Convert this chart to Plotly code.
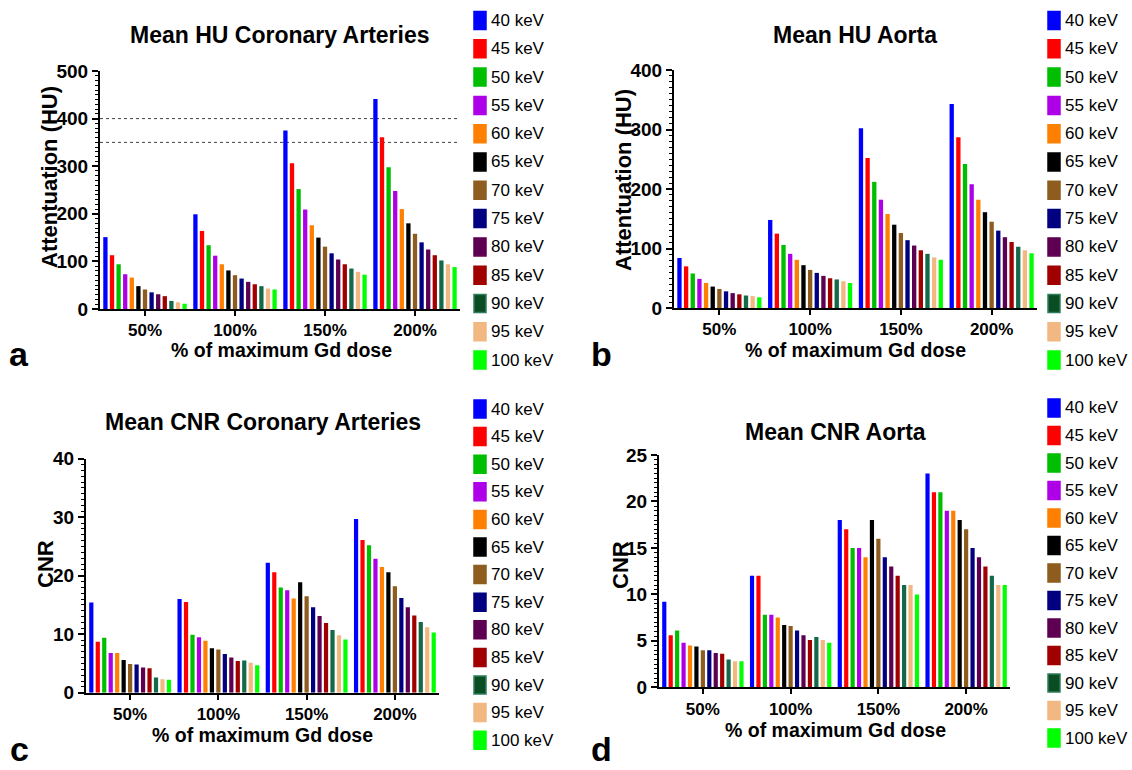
import plotly.graph_objects as go

W, H = 1132, 770

# ---------------- data ----------------
doses = ["50%", "100%", "150%", "200%"]
energies = ["40 keV", "45 keV", "50 keV", "55 keV", "60 keV", "65 keV", "70 keV",
            "75 keV", "80 keV", "85 keV", "90 keV", "95 keV", "100 keV"]
colors = ["#0000FF", "#FF0000", "#00BE00", "#AE00E8", "#FF8000", "#000000", "#8E5C1E",
          "#000080", "#5E0052", "#A00000", "#146A48", "#F2B882", "#00FF00"]
legend_border = ["#0000FF", "#FF0000", "#00BE00", "#AE00E8", "#FF8000", "#000000", "#8E5C1E",
                 "#000080", "#5E0052", "#A00000", "#2E7D5B", "#F2B882", "#00FF00"]
legend_fill = ["#0000FF", "#FF0000", "#00BE00", "#AE00E8", "#FF8000", "#000000", "#8E5C1E",
               "#000080", "#5E0052", "#A00000", "#0B4D22", "#F2B882", "#00FF00"]

# values per energy, ordered by dose (50%, 100%, 150%, 200%)
hu_coronary = {
    "40 keV": [151, 199, 375, 441],
    "45 keV": [113, 164, 306, 361],
    "50 keV": [94, 134, 252, 298],
    "55 keV": [73, 112, 209, 248],
    "60 keV": [66, 94, 176, 210],
    "65 keV": [48, 81, 150, 180],
    "70 keV": [41, 71, 131, 158],
    "75 keV": [35, 64, 117, 140],
    "80 keV": [31, 57, 104, 125],
    "85 keV": [27, 52, 94, 113],
    "90 keV": [17, 48, 85, 102],
    "95 keV": [14, 43, 78, 94],
    "100 keV": [11, 41, 72, 88],
}
hu_aorta = {
    "40 keV": [84, 148, 302, 343],
    "45 keV": [70, 125, 252, 287],
    "50 keV": [58, 106, 212, 242],
    "55 keV": [49, 91, 182, 208],
    "60 keV": [42, 81, 158, 182],
    "65 keV": [36, 72, 140, 161],
    "70 keV": [32, 64, 126, 145],
    "75 keV": [28, 59, 114, 130],
    "80 keV": [25, 54, 105, 119],
    "85 keV": [23, 50, 97, 111],
    "90 keV": [21, 48, 91, 103],
    "95 keV": [20, 45, 85, 97],
    "100 keV": [18, 42, 81, 92],
}
cnr_coronary = {
    "40 keV": [15.4, 16.0, 22.2, 29.7],
    "45 keV": [8.7, 15.5, 20.6, 26.1],
    "50 keV": [9.4, 9.9, 18.0, 25.2],
    "55 keV": [6.8, 9.5, 17.5, 22.9],
    "60 keV": [6.8, 8.9, 16.1, 21.5],
    "65 keV": [5.6, 7.6, 18.9, 20.6],
    "70 keV": [4.9, 7.4, 16.5, 18.2],
    "75 keV": [4.8, 6.6, 14.6, 16.2],
    "80 keV": [4.3, 6.0, 13.1, 14.6],
    "85 keV": [4.2, 5.4, 11.9, 13.2],
    "90 keV": [2.6, 5.5, 10.7, 12.1],
    "95 keV": [2.3, 5.1, 9.8, 11.2],
    "100 keV": [2.2, 4.7, 9.1, 10.3],
}
cnr_aorta = {
    "40 keV": [9.2, 12.0, 18.0, 23.0],
    "45 keV": [5.6, 12.0, 17.0, 21.0],
    "50 keV": [6.1, 7.8, 15.0, 21.0],
    "55 keV": [4.8, 7.8, 15.0, 19.0],
    "60 keV": [4.5, 7.5, 14.0, 19.0],
    "65 keV": [4.4, 6.7, 18.0, 18.0],
    "70 keV": [4.0, 6.6, 16.0, 17.0],
    "75 keV": [4.0, 6.1, 14.0, 15.0],
    "80 keV": [3.7, 5.6, 13.0, 14.0],
    "85 keV": [3.6, 5.1, 12.0, 13.0],
    "90 keV": [3.0, 5.4, 11.0, 12.0],
    "95 keV": [2.8, 5.1, 11.0, 11.0],
    "100 keV": [2.8, 4.8, 10.0, 11.0],
}

titles = ["Mean HU Coronary Arteries", "Mean HU Aorta",
          "Mean CNR Coronary Arteries", "Mean CNR Aorta"]
y_titles = ["Attentuation (HU)", "Attentuation (HU)", "CNR", "CNR"]
x_title = "% of maximum Gd dose"
panel_letters = ["a", "b", "c", "d"]
hu_threshold_lines = [400, 350]

# ---------------- layout geometry (pixels) ----------------
FONT = "Arial, Liberation Sans, Helvetica, sans-serif"
panels = [
    dict(data=hu_coronary, x0=100, x1=460, yt=71, yb=309, ymax=500, major=100, minor=10),
    dict(data=hu_aorta, x0=674, x1=1037, yt=70, yb=308, ymax=400, major=100, minor=10),
    dict(data=cnr_coronary, x0=86, x1=439, yt=458.7, yb=692.7, ymax=40, major=10, minor=1),
    dict(data=cnr_aorta, x0=659, x1=1010, yt=455, yb=687.3, ymax=25, major=5, minor=0.5),
]
title_pos = [(280, 35), (855, 35), (263, 422), (835, 432)]
ytitle_pos = [(49, 177), (624, 180), (45, 564), (620, 565)]
xtitle_pos = [(281, 350), (855, 350), (262, 735), (835, 730)]
letter_x = [19, 601, 19, 601]
letter_y = [354, 354, None, None]   # None -> anchored to bottom edge
legend_pos = [(474, 20.5, 28.3), (1048, 20.5, 28.3), (474, 409, 27.6), (1048, 408, 27.5)]


def px(x):
    return x / W


def py(y):
    return 1 - y / H


fig = go.Figure()
layout = dict(
    width=W, height=H, autosize=False,
    margin=dict(l=0, r=0, t=0, b=0, pad=0, autoexpand=False),
    paper_bgcolor="white", plot_bgcolor="white",
    barmode="group", bargap=0.047, bargroupgap=0.35,
    showlegend=False,
    font=dict(family=FONT, color="black"),
)
annotations = []
shapes = []

for i, p in enumerate(panels):
    sfx = "" if i == 0 else str(i + 1)
    xa, ya = "x" + sfx, "y" + sfx
    for e, c in zip(energies, colors):
        fig.add_trace(go.Bar(
            x=doses, y=p["data"][e], name=e, xaxis=xa, yaxis=ya,
            marker=dict(color=c, line=dict(width=0)),
        ))
    layout["xaxis" + sfx] = dict(
        domain=[px(p["x0"]), px(p["x1"])], anchor=ya, automargin=False,
        type="category", range=[-0.5, 3.5],
        showline=True, linecolor="black", linewidth=2,
        ticks="outside", ticklen=5, tickwidth=2, tickcolor="black",
        tickfont=dict(family=FONT, size=17, color="black", weight="bold"),
        showgrid=False, zeroline=False, fixedrange=True,
    )
    layout["yaxis" + sfx] = dict(
        domain=[py(p["yb"]), py(p["yt"])], anchor=xa, automargin=False,
        range=[0, p["ymax"]], dtick=p["major"], tick0=0,
        showline=True, linecolor="black", linewidth=2,
        ticks="outside", ticklen=6, tickwidth=2, tickcolor="black",
        minor=dict(dtick=p["minor"], ticks="outside", ticklen=3, tickwidth=1, tickcolor="black"),
        tickfont=dict(family=FONT, size=19, color="black", weight="bold"),
        showgrid=False, zeroline=False, fixedrange=True,
    )

    tx, ty = title_pos[i]
    annotations.append(dict(text=titles[i], x=px(tx), y=py(ty), xref="paper", yref="paper",
                            showarrow=False, xanchor="center", yanchor="middle",
                            font=dict(family=FONT, size=23, weight="bold", color="black")))
    yx, yy = ytitle_pos[i]
    annotations.append(dict(text=y_titles[i], x=px(yx), y=py(yy), xref="paper", yref="paper",
                            showarrow=False, xanchor="center", yanchor="middle", textangle=-90,
                            font=dict(family=FONT, size=22, weight="bold", color="black")))
    xx, xy = xtitle_pos[i]
    annotations.append(dict(text=x_title, x=px(xx), y=py(xy), xref="paper", yref="paper",
                            showarrow=False, xanchor="center", yanchor="middle",
                            font=dict(family=FONT, size=19.5, weight="bold", color="black")))
    if letter_y[i] is None:
        annotations.append(dict(text=panel_letters[i], x=px(letter_x[i]), y=0, xref="paper",
                                yref="paper", showarrow=False, xanchor="center", yanchor="bottom",
                                font=dict(family=FONT, size=34, weight="bold", color="black")))
    else:
        annotations.append(dict(text=panel_letters[i], x=px(letter_x[i]), y=py(letter_y[i]),
                                xref="paper", yref="paper", showarrow=False,
                                xanchor="center", yanchor="middle",
                                font=dict(family=FONT, size=34, weight="bold", color="black")))

    # custom legend
    gx, gy0, pitch = legend_pos[i]
    for k, e in enumerate(energies):
        cy = gy0 + k * pitch
        shapes.append(dict(type="rect", xref="paper", yref="paper",
                           x0=px(gx), x1=px(gx + 12), y0=py(cy + 9), y1=py(cy - 9),
                           fillcolor=legend_fill[k],
                           line=dict(color=legend_border[k], width=1.5)))
        annotations.append(dict(text=e, x=px(gx + 15), y=py(cy), xref="paper", yref="paper",
                                showarrow=False, xanchor="left", yanchor="middle",
                                font=dict(family=FONT, size=17, color="black")))

# dotted threshold lines in panel a
for v in hu_threshold_lines:
    shapes.append(dict(type="line", xref="x domain", yref="y", x0=0, x1=1, y0=v, y1=v,
                       line=dict(color="#444444", width=1, dash="dot"), layer="below"))

layout["annotations"] = annotations
layout["shapes"] = shapes
fig.update_layout(**layout)

post = """
var h = document.documentElement, b = document.body;
h.style.margin = '0'; h.style.padding = '0'; h.style.overflow = 'hidden';
b.style.margin = '0'; b.style.padding = '0'; b.style.overflow = 'hidden';
"""
fig.write_html("out.html", config={"displayModeBar": False, "responsive": False},
               post_script=post)
